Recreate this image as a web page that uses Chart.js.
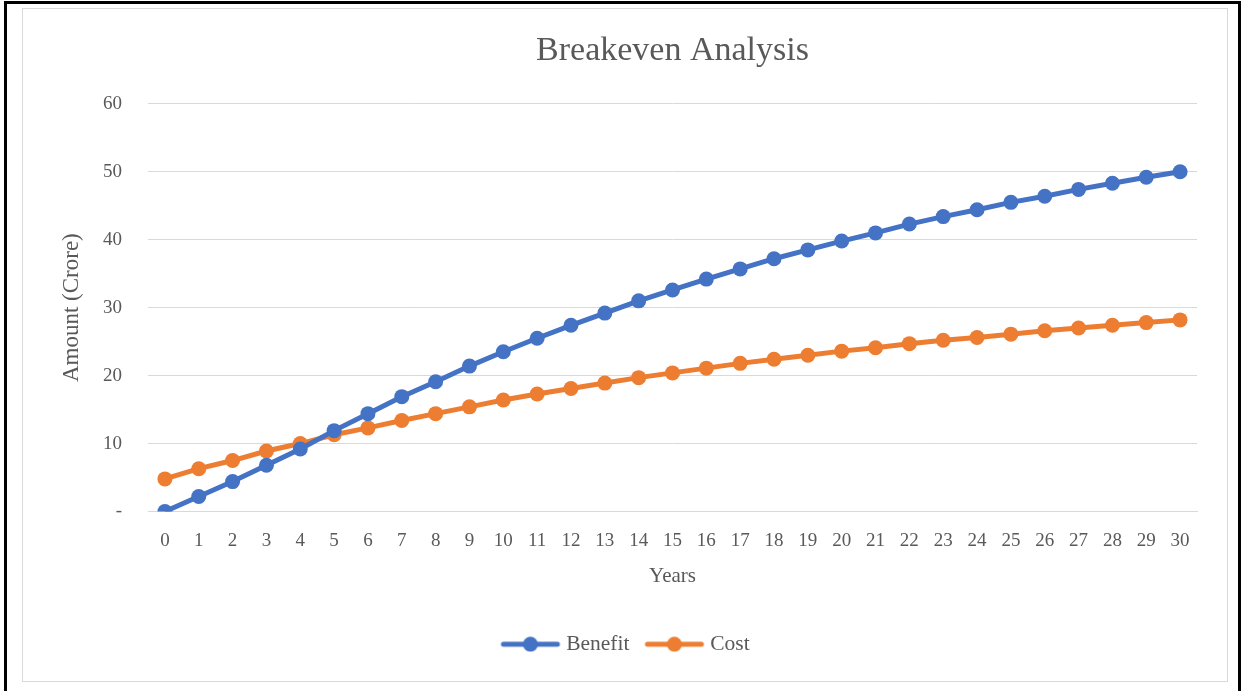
<!DOCTYPE html>
<html>
<head>
<meta charset="utf-8">
<script src="https://cdn.jsdelivr.net/npm/chart.js@4.4.1/dist/chart.umd.min.js"></script>
<style>
  html,body{margin:0;padding:0;background:#fff;}
  .frame{position:absolute;left:4px;top:1px;width:1231px;height:700px;border:3px solid #000;border-bottom:none;}
  .box{position:absolute;left:22px;top:8px;width:1204px;height:672px;border:1px solid #d9d9d9;background:#fff;}
  .box canvas{display:block;}
</style>
</head>
<body>
<div class="frame"></div>
<div class="box"><canvas id="chart" width="1204" height="672"></canvas></div>
<script>
const years=[0,1,2,3,4,5,6,7,8,9,10,11,12,13,14,15,16,17,18,19,20,21,22,23,24,25,26,27,28,29,30];
const benefit=[0,2.2,4.4,6.8,9.2,11.9,14.4,16.9,19.1,21.4,23.5,25.5,27.4,29.2,31.0,32.6,34.2,35.7,37.2,38.5,39.8,41.0,42.3,43.4,44.4,45.5,46.4,47.4,48.3,49.2,50.0];
const cost=[4.8,6.3,7.5,8.9,10.0,11.3,12.3,13.4,14.4,15.4,16.4,17.3,18.1,18.9,19.7,20.4,21.1,21.8,22.4,23.0,23.6,24.1,24.7,25.2,25.6,26.1,26.6,27.0,27.4,27.8,28.2];
const yTicks=[0,10,20,30,40,50,60];

const FONT='"Liberation Serif", "DejaVu Serif", serif';
const TXT='#595959';
const BLUE='#4472C4', ORANGE='#ED7D31';

// legend swatch: line with a dot in the middle (a bit wider than the legend box so the text sits close)
function swatch(color){
  const c=document.createElement('canvas'); c.width=62; c.height=16;
  const x=c.getContext('2d');
  x.strokeStyle=color; x.lineWidth=5; x.lineCap='round';
  x.beginPath(); x.moveTo(4,8); x.lineTo(58,8); x.stroke();
  x.fillStyle=color; x.beginPath(); x.arc(31,8,7.5,0,Math.PI*2); x.fill();
  return c;
}

const ds=(label,data,color)=>({label,data,borderColor:color,backgroundColor:color,borderWidth:5,
  pointRadius:7.5,pointHoverRadius:7.5,pointBorderWidth:0,pointBackgroundColor:color,tension:0,_sw:swatch(color)});

new Chart(document.getElementById('chart'),{
  type:'line',
  data:{labels:years,datasets:[ds('Benefit',benefit,BLUE),ds('Cost',cost,ORANGE)]},
  options:{
    responsive:false,animation:false,
    layout:{padding:{left:35,right:30,top:0,bottom:16}},
    plugins:{
      title:{display:true,fullSize:false,text:'Breakeven Analysis',color:TXT,font:{family:FONT,size:34,weight:'normal'},padding:{top:22,bottom:32}},
      legend:{position:'bottom',labels:{usePointStyle:true,pointStyleWidth:50,boxHeight:16,color:TXT,
        font:{family:FONT,size:21.5},padding:20,
        generateLabels(chart){
          return chart.data.datasets.map((d,i)=>({text:d.label,pointStyle:d._sw,fillStyle:d.borderColor,strokeStyle:d.borderColor,lineWidth:0,fontColor:TXT,datasetIndex:i,hidden:false}));
        }}},
      tooltip:{enabled:false}
    },
    scales:{
      x:{offset:true,grid:{display:false},border:{display:true,color:'#d9d9d9'},
        ticks:{color:TXT,font:{family:FONT,size:19},padding:10,maxRotation:0,autoSkip:false},
        title:{display:true,text:'Years',color:TXT,font:{family:FONT,size:21},padding:{top:8,bottom:24}},
        afterFit(s){s.height=102;}},
      y:{min:0,max:60,grid:{color:'#d9d9d9',lineWidth:1,drawTicks:false},border:{display:false},
        afterBuildTicks(s){s.ticks=yTicks.map(v=>({value:v}));},
        ticks:{color:TXT,font:{family:FONT,size:19},padding:26,callback:v=>v===0?'-':v},
        title:{display:true,text:'Amount (Crore)',color:TXT,font:{family:FONT,size:23},padding:{top:0,bottom:6}},
        afterFit(s){s.width=90;}}
    }
  }
});
</script>
</body>
</html>
